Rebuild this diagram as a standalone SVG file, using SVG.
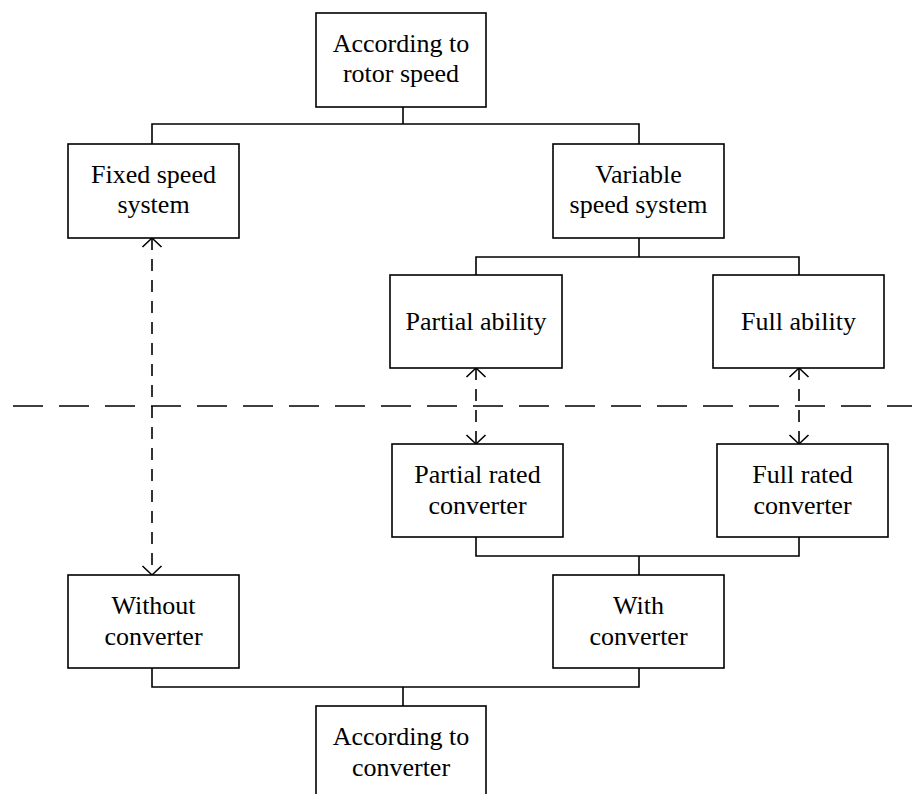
<svg xmlns="http://www.w3.org/2000/svg" width="912" height="794" viewBox="0 0 912 794">
<style>
.box{fill:#fff;stroke:#000;stroke-width:1.6}
.t{font-family:"Liberation Serif","Times New Roman",serif;font-size:26px;fill:#000;text-anchor:middle}
.ln{fill:none;stroke:#000;stroke-width:1.6}
.dv{fill:none;stroke:#000;stroke-width:1.6;stroke-dasharray:12 9;marker-start:url(#arr);marker-end:url(#arr)}
.dh{fill:none;stroke:#000;stroke-width:1.6;stroke-dasharray:30 16}
</style>
<defs>
<marker id="arr" markerUnits="userSpaceOnUse" markerWidth="22" markerHeight="24" viewBox="-11 -12 22 24" refX="0" refY="0" orient="auto-start-reverse">
<path d="M-9,-9.5 L0,0 L-9,9.5" fill="none" stroke="#000" stroke-width="1.6"/>
</marker>
</defs>
<rect width="912" height="794" fill="#fff"/>
<g id="connectors">
<path class="ln" d="M403,107V124M152,144V124H639V144"/>
<path class="ln" d="M639,238V257M476,275V257H799V275"/>
<path class="ln" d="M476,537V556H799V537M639,556V575"/>
<path class="ln" d="M152,668V687H639V668M403,687V706"/>
<path class="dv" d="M152,238V575"/>
<path class="dv" d="M476,368V444"/>
<path class="dv" d="M799,368V444"/>
<path class="dh" d="M13,406H912"/>
</g>
<g id="n_rotor"><rect class="box" x="316" y="13" width="170" height="94"/><text class="t" x="401" y="52">According to</text><text class="t" x="401" y="82">rotor speed</text></g>
<g id="n_fixed"><rect class="box" x="68" y="144" width="171" height="94"/><text class="t" x="153.5" y="183">Fixed speed</text><text class="t" x="153.5" y="213">system</text></g>
<g id="n_variable"><rect class="box" x="553" y="144" width="171" height="94"/><text class="t" x="638.5" y="183">Variable</text><text class="t" x="638.5" y="213">speed system</text></g>
<g id="n_partial"><rect class="box" x="390" y="275" width="172" height="93"/><text class="t" x="476" y="330">Partial ability</text></g>
<g id="n_full"><rect class="box" x="713" y="275" width="171" height="93"/><text class="t" x="798.5" y="330">Full ability</text></g>
<g id="n_partial_rated"><rect class="box" x="392" y="444" width="171" height="93"/><text class="t" x="477.5" y="483">Partial rated</text><text class="t" x="477.5" y="514">converter</text></g>
<g id="n_full_rated"><rect class="box" x="717" y="444" width="171" height="93"/><text class="t" x="802.5" y="483">Full rated</text><text class="t" x="802.5" y="514">converter</text></g>
<g id="n_without"><rect class="box" x="68" y="575" width="171" height="93"/><text class="t" x="153.5" y="614">Without</text><text class="t" x="153.5" y="645">converter</text></g>
<g id="n_with"><rect class="box" x="553" y="575" width="171" height="93"/><text class="t" x="638.5" y="614">With</text><text class="t" x="638.5" y="645">converter</text></g>
<g id="n_converter"><rect class="box" x="316" y="706" width="170" height="96"/><text class="t" x="401" y="745">According to</text><text class="t" x="401" y="776">converter</text></g>
</svg>
